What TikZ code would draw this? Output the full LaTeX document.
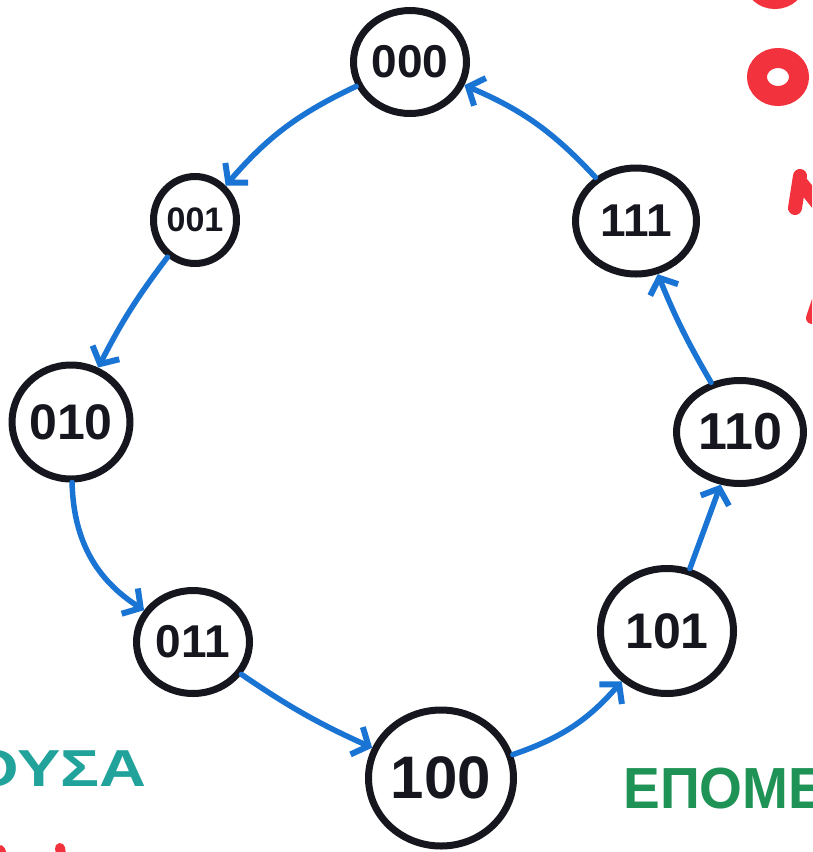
\documentclass[tikz,border=0pt]{standalone}
\usepackage{fontspec}
\setmainfont{Liberation Sans}
\usetikzlibrary{arrows.meta,shapes.geometric}

\definecolor{ink}{HTML}{16161F}
\definecolor{flow}{HTML}{1A74D4}
\definecolor{tealink}{HTML}{21A39B}
\definecolor{greenink}{HTML}{1F9356}
\definecolor{redink}{HTML}{F2323C}

\tikzset{
  state/.style={ellipse, draw=ink, line width=7pt, inner sep=0pt, text=ink},
  lbl/.style={font=\bfseries\fontsize{#1}{#1}\selectfont},
  trans/.style={draw=flow, line width=5.5pt, line cap=round,
    -{Straight Barb[length=13pt,width=30pt,line width=6pt]}},
  redmark/.style={draw=redink, line width=18pt, line cap=round},
}

\begin{document}
\begin{tikzpicture}[x=1pt,y=-1pt]
  \useasboundingbox (0,0) rectangle (812,852);
  \clip (0,0) rectangle (812,852);
  \fill[white] (0,0) rectangle (812,852);

  % states of the counter
  \node[state, lbl=46, minimum width=113pt, minimum height=103pt] (s000) at (410,62)  {000};
  \node[state, lbl=34, minimum width=83pt,  minimum height=87pt]  (s001) at (195,220) {001};
  \node[state, lbl=50, minimum width=115pt, minimum height=114pt] (s010) at (71,422)  {010};
  \node[state, lbl=46, minimum width=113pt, minimum height=103pt] (s011) at (193,642) {011};
  \node[state, lbl=60, minimum width=145pt, minimum height=136pt] (s100) at (441,778) {100};
  \node[state, lbl=50, minimum width=133pt, minimum height=125pt] (s101) at (667,631) {101};
  \node[state, lbl=52, minimum width=127pt, minimum height=103pt] (s110) at (740,432) {110};
  \node[state, lbl=46, minimum width=121pt, minimum height=106pt] (s111) at (636,221) {111};

  % transitions
  \draw[trans] (s000) to[bend right=12] (s001);
  \draw[trans] (s001) to[bend right=5]  (s010);
  \draw[trans] (s010) to[bend right=28] (s011);
  \draw[trans] (s011) to[bend right=5]  (s100);
  \draw[trans] (s100) to[bend right=15] (s101);
  \draw[trans] (s101) to (s110);
  \draw[trans] (s110) to[bend left=4]  (s111);
  \draw[trans] (s111) to[bend right=12] (s000);

  % captions
  \node[anchor=base west, xscale=1.25, text=tealink, lbl=52] (cur) at (-36,786) {ΟΥΣΑ};
  \node[anchor=base west, xscale=0.95, text=greenink, lbl=58] (nxt) at (620,808) {ΕΠΟΜΕ};

  % red marks on the edges
  \draw[redmark] (775,-20) ellipse (22 and 20);
  \draw[redmark, line width=20pt] (778,77) ellipse (21 and 19);
  \draw[redmark, line width=14pt] (800,176) -- (795,208);
  \draw[redmark, line width=14pt] (802,184) -- (818,204);
  \draw[redmark, line width=12pt] (818,300) -- (812,318);
  \draw[redmark, line width=10pt] (0,850) -- (4,860);
  \draw[redmark, line width=10pt] (60,848) -- (62,860);
  \draw[redmark, line width=8pt] (328,857) -- (330,860);
  \draw[redmark, line width=8pt] (412,858) -- (414,860);
\end{tikzpicture}
\end{document}
